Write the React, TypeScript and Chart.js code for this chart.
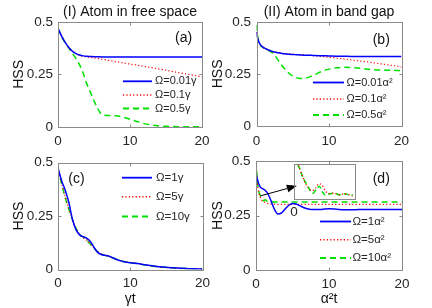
import { useEffect, useRef } from 'react';
import { Chart, registerables } from 'chart.js';
Chart.register(...registerables);

const FONT = "'Liberation Sans', Arial, Helvetica, sans-serif";
const TEXT = '#262626';
const FRAME = '#8a8a8a';

// ---------- Panel (a): atom in free space ----------
const tA = [0, 0.5, 1, 1.5, 2, 2.5, 3, 3.5, 4, 4.5, 5, 5.5, 6, 6.5, 7, 8, 9, 10, 11, 12, 13, 14, 15, 16, 17, 18, 19, 20];
const a001 = [0.47, 0.432, 0.402, 0.378, 0.36, 0.349, 0.342, 0.338, 0.336, 0.335, 0.334, 0.334, 0.333, 0.333, 0.333, 0.333, 0.333, 0.333, 0.333, 0.333, 0.333, 0.333, 0.333, 0.333, 0.333, 0.333, 0.333, 0.333];
const a01 = [0.47, 0.432, 0.402, 0.378, 0.36, 0.348, 0.34, 0.336, 0.333, 0.331, 0.328, 0.326, 0.323, 0.32, 0.317, 0.311, 0.305, 0.299, 0.294, 0.288, 0.282, 0.276, 0.27, 0.263, 0.257, 0.251, 0.245, 0.238];
const a05 = [0.47, 0.43, 0.4, 0.375, 0.35, 0.325, 0.295, 0.255, 0.205, 0.165, 0.125, 0.088, 0.062, 0.056, 0.055, 0.053, 0.047, 0.037, 0.026, 0.016, 0.009, 0.005, 0.003, 0.002, 0.0015, 0.001, 0.001, 0.001];
const labelsA = ['Ω=0.01γ', 'Ω=0.1γ', 'Ω=0.5γ'];

// ---------- Panel (b): atom in band gap ----------
const tB = [0, 0.1, 0.25, 0.5, 0.75, 1, 1.5, 2, 2.5, 3, 3.5, 4, 4.5, 5, 5.5, 6, 6.5, 7, 7.5, 8, 9, 10, 11, 12, 13, 14, 15, 16, 17, 18, 19, 20];
const b001 = [0.45, 0.43, 0.41, 0.392, 0.382, 0.376, 0.367, 0.36, 0.355, 0.351, 0.348, 0.346, 0.344, 0.343, 0.342, 0.341, 0.34, 0.339, 0.339, 0.338, 0.337, 0.336, 0.335, 0.335, 0.334, 0.334, 0.334, 0.333, 0.333, 0.333, 0.333, 0.333];
const b01 = [0.45, 0.43, 0.41, 0.392, 0.382, 0.376, 0.367, 0.36, 0.355, 0.352, 0.35, 0.348, 0.346, 0.345, 0.343, 0.342, 0.341, 0.34, 0.339, 0.337, 0.334, 0.33, 0.326, 0.322, 0.318, 0.313, 0.309, 0.304, 0.299, 0.294, 0.289, 0.283];
const b05 = [0.485, 0.445, 0.415, 0.39, 0.38, 0.374, 0.365, 0.356, 0.34, 0.315, 0.29, 0.27, 0.252, 0.24, 0.232, 0.228, 0.228, 0.232, 0.238, 0.246, 0.262, 0.273, 0.279, 0.282, 0.281, 0.278, 0.274, 0.271, 0.269, 0.268, 0.267, 0.266];
const labelsB = ['Ω=0.01α²', 'Ω=0.1α²', 'Ω=0.5α²'];

// ---------- Panel (c): free space, strong driving ----------
const tC = [0, 0.5, 1, 1.5, 2, 2.5, 3, 3.5, 4, 4.5, 5, 5.5, 6, 6.5, 7, 7.5, 8, 8.5, 9, 10, 11, 12, 13, 14, 15, 16, 17, 18, 19, 20];
const c1 = [0.473, 0.415, 0.37, 0.313, 0.235, 0.185, 0.162, 0.153, 0.146, 0.13, 0.103, 0.08, 0.07, 0.066, 0.063, 0.056, 0.048, 0.042, 0.037, 0.032, 0.028, 0.022, 0.017, 0.013, 0.01, 0.008, 0.006, 0.004, 0.003, 0.002];
const c5 = [0.473, 0.405, 0.34, 0.285, 0.235, 0.19, 0.165, 0.148, 0.136, 0.118, 0.1, 0.083, 0.073, 0.067, 0.062, 0.055, 0.049, 0.043, 0.038, 0.033, 0.028, 0.022, 0.017, 0.012, 0.009, 0.007, 0.005, 0.004, 0.003, 0.002];
const c10 = [0.473, 0.4, 0.335, 0.282, 0.232, 0.192, 0.166, 0.15, 0.135, 0.117, 0.098, 0.082, 0.072, 0.066, 0.061, 0.055, 0.049, 0.043, 0.038, 0.032, 0.027, 0.021, 0.016, 0.012, 0.009, 0.007, 0.005, 0.004, 0.003, 0.002];
const labelsC = ['Ω=1γ', 'Ω=5γ', 'Ω=10γ'];

// ---------- Panel (d): band gap, strong driving ----------
const tD = [0, 0.1, 0.2, 0.3, 0.4, 0.6, 0.8, 1, 1.3, 1.6, 2, 2.5, 3, 3.5, 4, 4.5, 5, 5.5, 6, 6.5, 7, 8, 9, 10, 11, 12, 13, 14, 15, 16, 17, 18, 19, 20];
const d1 = [0.44, 0.428, 0.415, 0.403, 0.393, 0.38, 0.375, 0.371, 0.364, 0.352, 0.322, 0.28, 0.257, 0.262, 0.28, 0.297, 0.305, 0.303, 0.295, 0.287, 0.281, 0.277, 0.278, 0.281, 0.279, 0.276, 0.276, 0.277, 0.278, 0.278, 0.277, 0.277, 0.277, 0.277];
const d5 = [0.49, 0.44, 0.395, 0.37, 0.352, 0.333, 0.32, 0.313, 0.31, 0.305, 0.303, 0.302, 0.301, 0.301, 0.301, 0.301, 0.301, 0.301, 0.301, 0.301, 0.301, 0.301, 0.301, 0.301, 0.301, 0.301, 0.301, 0.301, 0.301, 0.301, 0.301, 0.301, 0.301, 0.301];
const d10 = [0.5, 0.455, 0.41, 0.38, 0.36, 0.34, 0.328, 0.318, 0.322, 0.314, 0.314, 0.312, 0.312, 0.312, 0.312, 0.312, 0.312, 0.312, 0.312, 0.312, 0.312, 0.312, 0.312, 0.312, 0.312, 0.312, 0.312, 0.312, 0.312, 0.312, 0.312, 0.312, 0.312, 0.312];
const labelsD = ['Ω=1α²', 'Ω=5α²', 'Ω=10α²'];

// ---------- Inset of panel (d) ----------
const tInR = [0.08, 0.14, 0.2, 0.29, 0.37, 0.48, 0.59, 0.7, 0.81, 0.92, 1.03, 1.14, 1.31, 1.48, 1.64, 1.81, 1.92];
const inR = [0.375, 0.36, 0.3497, 0.338, 0.327, 0.318, 0.314, 0.318, 0.326, 0.324, 0.314, 0.309, 0.31, 0.307, 0.309, 0.307, 0.305];
const tInG = [0.06, 0.11, 0.18, 0.26, 0.33, 0.43, 0.53, 0.63, 0.73, 0.83, 0.93, 1.03, 1.17, 1.33, 1.5, 1.67, 1.83, 1.93];
const inG = [0.372, 0.36, 0.353, 0.341, 0.333, 0.324, 0.315, 0.31, 0.317, 0.322, 0.312, 0.307, 0.309, 0.31, 0.307, 0.309, 0.307, 0.307];

const xTicksStep = 10;
const yTicksStep = 0.25;

const styles = [
  { color: 'rgb(0,0,255)', width: 1.5, dash: [] as number[] },
  { color: 'rgb(255,0,0)', width: 1.2, dash: [1.2, 2.2] },
  { color: 'rgb(0,225,0)', width: 1.5, dash: [6, 4] },
];

const pts = (t: number[], v: number[]) => t.map((x, i) => ({ x, y: v[i] }));

const framePlugin = {
  id: 'matFrame',
  afterDatasetsDraw(chart: any, _a: any, o: any) {
    const { ctx, chartArea: ca, scales } = chart;
    const L = Math.round(ca.left), R = Math.round(ca.right), T = Math.round(ca.top), B = Math.round(ca.bottom);
    ctx.save();
    ctx.strokeStyle = FRAME;
    ctx.lineWidth = 1;
    ctx.setLineDash([]);
    ctx.strokeRect(L + 0.5, T + 0.5, R - L, B - T);
    if (o && o.ticks) {
      const tl = 3;
      ctx.beginPath();
      scales.x.ticks.forEach((tk: any) => {
        const px = Math.round(scales.x.getPixelForValue(tk.value)) + 0.5;
        if (px <= L + 1 || px >= R) return;
        ctx.moveTo(px, B + 0.5); ctx.lineTo(px, B + 0.5 - tl);
        ctx.moveTo(px, T + 0.5); ctx.lineTo(px, T + 0.5 + tl);
      });
      scales.y.ticks.forEach((tk: any) => {
        const py = Math.round(scales.y.getPixelForValue(tk.value)) + 0.5;
        if (py <= T + 1 || py >= B) return;
        ctx.moveTo(L + 0.5, py); ctx.lineTo(L + 0.5 + tl, py);
        ctx.moveTo(R + 0.5, py); ctx.lineTo(R + 0.5 - tl, py);
      });
      ctx.stroke();
    }
    ctx.restore();
  },
};

const legendPlugin = {
  id: 'matLegend',
  afterDraw(chart: any, _a: any, o: any) {
    if (!o || !o.rows) return;
    const { ctx, chartArea: ca } = chart;
    ctx.save();
    chart.data.datasets.forEach((ds: any, i: number) => {
      const y = ca.top + o.rows[i];
      ctx.beginPath();
      ctx.strokeStyle = ds.borderColor;
      ctx.lineWidth = ds.borderWidth + 0.3;
      ctx.lineCap = 'butt';
      ctx.setLineDash(ds.borderDash || []);
      ctx.moveTo(ca.left + o.x0, y);
      ctx.lineTo(ca.left + o.x1, y);
      ctx.stroke();
      ctx.setLineDash([]);
      ctx.fillStyle = TEXT;
      ctx.font = `${o.size}px ${FONT}`;
      ctx.textBaseline = 'middle';
      ctx.textAlign = 'left';
      ctx.fillText(ds.label, ca.left + o.tx, y);
    });
    ctx.restore();
  },
};

const letterPlugin = {
  id: 'matLetter',
  afterDraw(chart: any, _a: any, o: any) {
    if (!o || !o.text) return;
    const { ctx, chartArea: ca } = chart;
    ctx.save();
    ctx.fillStyle = '#111';
    ctx.font = `14px ${FONT}`;
    ctx.textBaseline = 'middle';
    ctx.textAlign = 'left';
    ctx.fillText(o.text, ca.left + o.x, ca.top + o.y);
    ctx.restore();
  },
};

const arrowPlugin = {
  id: 'matArrow',
  afterDraw(chart: any, _a: any, o: any) {
    if (!o || !o.from) return;
    const { ctx, scales } = chart;
    const x0 = scales.x.getPixelForValue(o.from[0]);
    const y0 = scales.y.getPixelForValue(o.from[1]);
    const x1 = scales.x.getPixelForValue(o.to[0]);
    const y1 = scales.y.getPixelForValue(o.to[1]);
    const ang = Math.atan2(y1 - y0, x1 - x0);
    const hl = 10, hw = 4;
    const bx = x1 - hl * Math.cos(ang), by = y1 - hl * Math.sin(ang);
    ctx.save();
    ctx.strokeStyle = '#000';
    ctx.fillStyle = '#000';
    ctx.lineWidth = 1;
    ctx.beginPath();
    ctx.moveTo(x0, y0);
    ctx.lineTo(bx, by);
    ctx.stroke();
    ctx.beginPath();
    ctx.moveTo(x1, y1);
    ctx.lineTo(bx + hw * Math.sin(ang), by - hw * Math.cos(ang));
    ctx.lineTo(bx - hw * Math.sin(ang), by + hw * Math.cos(ang));
    ctx.closePath();
    ctx.fill();
    ctx.restore();
  },
};

const insetLabelPlugin = {
  id: 'insetLabel',
  afterDraw(chart: any, _a: any, o: any) {
    if (!o || !o.text) return;
    const { ctx, chartArea: ca, scales } = chart;
    ctx.save();
    ctx.fillStyle = TEXT;
    ctx.font = `13.5px ${FONT}`;
    ctx.textAlign = 'center';
    ctx.textBaseline = 'middle';
    ctx.fillText(o.text, scales.x.getPixelForValue(o.value), ca.bottom + o.dy);
    ctx.restore();
  },
};

function makeDatasets(t: number[], series: number[][], labels: string[]) {
  return series.map((s, i) => ({
    label: labels[i],
    data: pts(t, s),
    borderColor: styles[i].color,
    borderWidth: styles[i].width,
    borderDash: styles[i].dash,
    pointRadius: 0,
    fill: false,
    cubicInterpolationMode: 'monotone',
    borderCapStyle: 'butt',
  }));
}

const fmtTick = (v: any) => String(Math.round(Number(v) * 1000) / 1000);

function panelConfig(p: any) {
  return {
    type: 'line',
    data: { datasets: makeDatasets(p.t, p.series, p.labels) },
    options: {
      animation: false,
      responsive: false,
      maintainAspectRatio: false,
      events: [],
      layout: { padding: p.pad },
      plugins: {
        legend: { display: false },
        tooltip: { enabled: false },
        title: p.title
          ? { display: true, text: p.title, fullSize: false, color: '#111', font: { family: FONT, size: 14, weight: 'normal', lineHeight: 1.2 }, padding: { top: 0, bottom: 1 } }
          : { display: false },
        matFrame: { ticks: true },
        matLegend: p.legend,
        matLetter: p.letter,
        matArrow: p.arrow || false,
      },
      scales: {
        x: {
          type: 'linear', min: 0, max: 20,
          ticks: { stepSize: xTicksStep, padding: p.xTickPad, color: TEXT, font: { family: FONT, size: 13.5 }, maxRotation: 0, autoSkip: false, callback: fmtTick },
          grid: { display: false, drawTicks: false },
          border: { display: false },
          title: p.xTitle
            ? { display: true, text: p.xTitle, color: '#111', font: { family: FONT, size: 14, lineHeight: 1.2 }, padding: { top: 0, bottom: 0 } }
            : { display: false },
          afterFit: (s: any) => { s.height = p.xH; s.paddingLeft = 0; s.paddingRight = 0; },
        },
        y: {
          type: 'linear', min: 0, max: 0.5,
          ticks: { stepSize: yTicksStep, padding: p.yTickPad, color: TEXT, font: { family: FONT, size: 13.5 }, callback: fmtTick },
          grid: { display: false, drawTicks: false },
          border: { display: false },
          title: { display: true, text: 'HSS', color: '#111', font: { family: FONT, size: 14, lineHeight: 1.2 }, padding: { top: p.hssPad, bottom: 0 } },
          afterFit: (s: any) => { s.width = p.yW; s.paddingTop = 0; s.paddingBottom = 0; },
        },
      },
    },
    plugins: [framePlugin, legendPlugin, letterPlugin, arrowPlugin],
  };
}

function insetConfig() {
  return {
    type: 'line',
    data: {
      datasets: [
        { label: 'Ω=5α²', data: pts(tInR, inR), borderColor: styles[1].color, borderWidth: styles[1].width, borderDash: styles[1].dash, pointRadius: 0, cubicInterpolationMode: 'monotone' },
        { label: 'Ω=10α²', data: pts(tInG, inG), borderColor: styles[2].color, borderWidth: styles[2].width, borderDash: [5, 3], pointRadius: 0, cubicInterpolationMode: 'monotone' },
      ],
    },
    options: {
      animation: false,
      responsive: false,
      maintainAspectRatio: false,
      events: [],
      layout: { padding: { left: 10, right: 9, top: 4, bottom: 23 } },
      plugins: {
        legend: { display: false },
        tooltip: { enabled: false },
        title: { display: false },
        matFrame: { ticks: false },
        insetLabel: { text: '0', value: 0, dy: 13.5 },
      },
      scales: {
        x: { type: 'linear', min: 0, max: 2, display: false },
        y: { type: 'linear', min: 0.3, max: 0.36, display: false },
      },
    },
    plugins: [framePlugin, insetLabelPlugin],
  };
}

const PA = {
  t: tA, series: [a001, a01, a05], labels: labelsA, title: '(I) Atom in free space',
  pad: { left: 0, right: 14, top: 4, bottom: 0 }, xH: 21, yW: 58, xTickPad: 6.5, yTickPad: 5, hssPad: 10.6,
  legend: { x0: 65, x1: 94, tx: 97, rows: [59.5, 73.2, 86.7], size: 11 },
  letter: { text: '(a)', x: 117, y: 16.7 },
};
const PB = {
  t: tB, series: [b001, b01, b05], labels: labelsB, title: '(II) Atom in band gap',
  pad: { left: 0, right: 30.5, top: 4, bottom: 0 }, xH: 22, yW: 50.5, xTickPad: 7, yTickPad: 5.5, hssPad: 4.1,
  legend: { x0: 56.5, x1: 87.5, tx: 90, rows: [60.7, 77.2, 93.2], size: 11 },
  letter: { text: '(b)', x: 116.2, y: 18.2 },
};
const PC = {
  t: tC, series: [c1, c5, c10], labels: labelsC, xTitle: 'γt',
  pad: { left: 0, right: 13.5, top: 14.5, bottom: 0 }, xH: 38.5, yW: 58, xTickPad: 5.5, yTickPad: 5, hssPad: 10.6,
  legend: { x0: 64, x1: 94, tx: 98, rows: [15.2, 34.3, 54], size: 11.5 },
  letter: { text: '(c)', x: 10.3, y: 16.5 },
};
const PD = {
  t: tD, series: [d1, d5, d10], labels: labelsD, xTitle: 'α²t',
  pad: { left: 0, right: 30, top: 13, bottom: 0 }, xH: 38, yW: 50, xTickPad: 6.5, yTickPad: 5.5, hssPad: 4.1,
  legend: { x0: 64, x1: 95, tx: 96.5, rows: [60.5, 78.8, 97], size: 11.5 },
  letter: { text: '(d)', x: 116.7, y: 18 },
  arrow: { from: [0.6, 0.34], to: [5.6, 0.386] },
};

export default function App() {
  const ra = useRef<HTMLCanvasElement>(null);
  const rb = useRef<HTMLCanvasElement>(null);
  const rc = useRef<HTMLCanvasElement>(null);
  const rd = useRef<HTMLCanvasElement>(null);
  const ri = useRef<HTMLCanvasElement>(null);

  useEffect(() => {
    Chart.defaults.font.family = FONT;
    const charts: Chart[] = [];
    charts.push(new Chart(ra.current as HTMLCanvasElement, panelConfig(PA) as any));
    charts.push(new Chart(rb.current as HTMLCanvasElement, panelConfig(PB) as any));
    charts.push(new Chart(rc.current as HTMLCanvasElement, panelConfig(PC) as any));
    charts.push(new Chart(rd.current as HTMLCanvasElement, panelConfig(PD) as any));
    charts.push(new Chart(ri.current as HTMLCanvasElement, insetConfig() as any));
    return () => charts.forEach((c) => c.destroy());
  }, []);

  const cs = (l: number, t: number, w: number, h: number) => ({ position: 'absolute' as const, left: l, top: t, width: w, height: h });

  return (
    <div style={{ position: 'absolute', left: 0, top: 0, width: 432, height: 308, background: '#fff', overflow: 'hidden' }}>
      <canvas ref={ra} width={216} height={148} style={cs(0, 0, 216, 148)} />
      <canvas ref={rb} width={226} height={148} style={cs(206, 0, 226, 148)} />
      <canvas ref={rc} width={216} height={160} style={cs(0, 148, 216, 160)} />
      <canvas ref={rd} width={226} height={160} style={cs(206, 148, 226, 160)} />
      <canvas ref={ri} width={80} height={62} style={cs(284, 160, 80, 62)} />
    </div>
  );
}
